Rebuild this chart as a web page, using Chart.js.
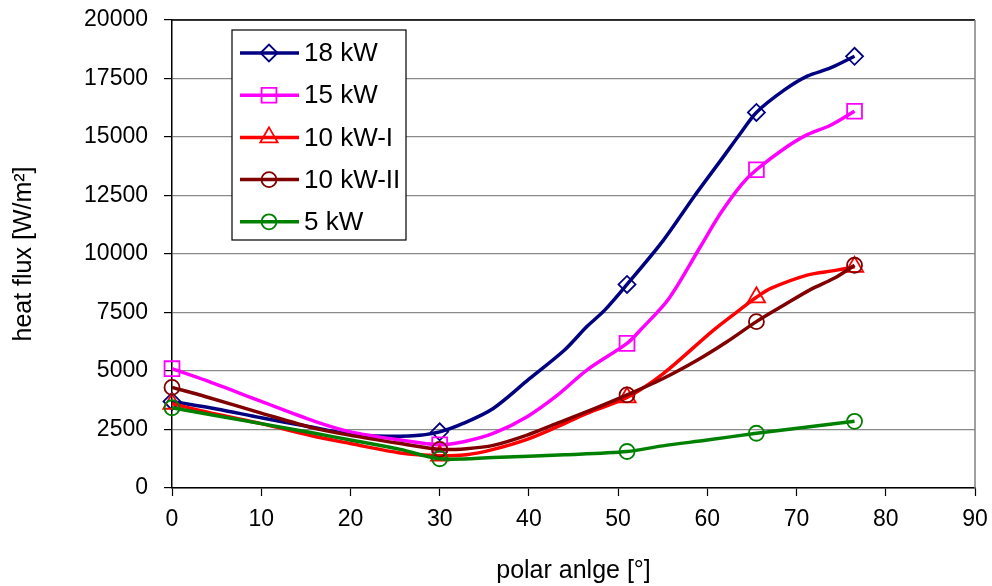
<!DOCTYPE html>
<html>
<head>
<meta charset="utf-8">
<script src="https://cdn.jsdelivr.net/npm/chart.js"></script>
<style>
  html, body { margin: 0; padding: 0; background: #fff; }
</style>
</head>
<body>
<canvas id="chart" width="992" height="586"></canvas>
<script>
// values
const markerAngles = [0, 30, 51, 65.5, 76.5];

const angles18 = [0, 5, 10, 15, 20, 23, 27, 30, 32.7, 36, 40, 44, 46.5, 48.5, 51, 55, 58.5, 61.5, 63.7, 65.5, 68.6, 71.2, 73.8, 76.5];
const flux18 = [3700, 3380, 3000, 2650, 2300, 2220, 2230, 2400, 2770, 3400, 4650, 5900, 6900, 7600, 8700, 10550, 12450, 14000, 15150, 16050, 17000, 17600, 17950, 18450];

const angles15 = [0, 3.8, 10, 16, 20, 25.6, 30, 32.7, 36, 39.8, 43.2, 46.5, 51, 52.5, 55.7, 59.2, 61.5, 63.9, 65.5, 68.6, 71.2, 73.8, 76.5];
const flux15 = [5100, 4600, 3700, 2850, 2400, 2050, 1850, 1980, 2330, 3050, 3970, 5040, 6180, 6750, 8100, 10300, 11750, 13000, 13600, 14500, 15100, 15500, 16100];

const angles10a = [0, 5, 10, 16, 20, 25.6, 30, 33, 36, 39.8, 43.2, 46.5, 51, 55.1, 60.7, 64.1, 65.5, 67.1, 71.2, 74.2, 76.5];
const flux10a = [3600, 3150, 2750, 2200, 1900, 1500, 1380, 1420, 1650, 2080, 2620, 3190, 3870, 4900, 6750, 7750, 8150, 8530, 9100, 9290, 9450];

const angles10b = [0, 3.8, 10, 16, 20, 25.6, 30, 33, 36, 39.8, 43.2, 46.5, 51, 55.1, 58.9, 62.2, 65.5, 68.6, 71.6, 74.2, 76.5];
const flux10b = [4300, 3900, 3200, 2550, 2250, 1900, 1650, 1680, 1820, 2260, 2770, 3260, 3980, 4690, 5470, 6250, 7110, 7820, 8490, 8960, 9520];

const angles5 = [0, 10, 16, 20, 25.6, 30, 36, 44, 51, 55, 60, 65.5, 71, 76.5];
const flux5 = [3430, 2750, 2340, 2050, 1650, 1250, 1300, 1420, 1560, 1800, 2050, 2340, 2600, 2850];

const seriesNames = ['18 kW', '15 kW', '10 kW-I', '10 kW-II', '5 kW'];
const seriesColors = ['#000080', '#ff00ff', '#ff0000', '#800000', '#008000'];
const seriesMarkers = ['rectRot', 'rect', 'triangle', 'circle', 'circle'];
const markerSizes = [8.5, 10.5, 10, 7.5, 7.5];

const allAngles = [angles18, angles15, angles10a, angles10b, angles5];
const allFlux = [flux18, flux15, flux10a, flux10b, flux5];

const FONT = "'Liberation Sans', Arial, sans-serif";

const datasets = seriesNames.map((name, i) => ({
  label: name,
  data: allAngles[i].map((a, j) => ({ x: a, y: allFlux[i][j] })),
  borderColor: seriesColors[i],
  borderWidth: 3.5,
  tension: 0.3,
  clip: false,
  pointStyle: seriesMarkers[i],
  pointBorderColor: seriesColors[i],
  pointBackgroundColor: 'rgba(0,0,0,0)',
  pointBorderWidth: 1.8,
  pointRadius: ctx => markerAngles.includes(ctx.raw.x) ? markerSizes[i] : 0,
  pointHoverRadius: 0,
  fill: false,
  order: 5 - i
}));

// plot frame (top / right) and the boxed legend
const frameLegend = {
  id: 'frameLegend',
  afterDraw(chart) {
    const { ctx, chartArea: a } = chart;
    ctx.save();
    ctx.lineWidth = 1.5;
    ctx.strokeStyle = '#000';
    ctx.beginPath();
    ctx.moveTo(a.left, a.top);
    ctx.lineTo(a.right, a.top);
    ctx.stroke();
    ctx.strokeStyle = '#808080';
    ctx.beginPath();
    ctx.moveTo(a.right, a.top);
    ctx.lineTo(a.right, a.bottom);
    ctx.stroke();

    const bx = a.left + 60, by = a.top + 10, bw = 174, bh = 210;
    ctx.fillStyle = '#fff';
    ctx.fillRect(bx, by, bw, bh);
    ctx.lineWidth = 1.2;
    ctx.strokeStyle = '#000';
    ctx.strokeRect(bx, by, bw, bh);

    ctx.font = '26px ' + FONT;
    ctx.textBaseline = 'middle';
    ctx.textAlign = 'left';
    seriesNames.forEach((name, i) => {
      const y = by + 23 + i * 42.2;
      ctx.strokeStyle = seriesColors[i];
      ctx.lineWidth = 3.5;
      ctx.beginPath();
      ctx.moveTo(bx + 8, y);
      ctx.lineTo(bx + 67, y);
      ctx.stroke();
      ctx.lineWidth = 1.8;
      ctx.fillStyle = 'rgba(0,0,0,0)';
      Chart.helpers.drawPoint(ctx, {
        pointStyle: seriesMarkers[i], radius: markerSizes[i], rotation: 0, borderWidth: 1.8
      }, bx + 37, y);
      ctx.fillStyle = '#000';
      ctx.fillText(name, bx + 72, y + 1);
    });
    ctx.restore();
  }
};

new Chart(document.getElementById('chart'), {
  type: 'line',
  data: { datasets },
  plugins: [frameLegend],
  options: {
    responsive: false,
    animation: false,
    layout: { padding: { top: 20, right: 17, left: 0, bottom: 0 } },
    plugins: { legend: { display: false }, tooltip: { enabled: false } },
    scales: {
      x: {
        type: 'linear',
        min: 0, max: 90,
        ticks: { stepSize: 10, color: '#000', padding: 10, font: { family: FONT, size: 23 } },
        grid: { drawOnChartArea: false, tickLength: 8, tickColor: '#000', tickWidth: 1.2 },
        border: { color: '#000', width: 1.5 },
        title: { display: true, text: 'polar anlge [°]', color: '#000', padding: { top: 0, bottom: 0 }, font: { family: FONT, size: 25 } },
        afterFit: s => { s.height = 98; s.paddingLeft = 0; s.paddingRight = 0; }
      },
      y: {
        min: 0, max: 20000,
        ticks: { stepSize: 2500, color: '#000', padding: 16, font: { family: FONT, size: 23 }, callback: v => String(v) },
        grid: { color: '#8a8a8a', lineWidth: 1.2, tickLength: 8, tickColor: '#000', tickWidth: 1.2 },
        border: { color: '#000', width: 1.5 },
        title: { display: true, text: 'heat flux [W/m²]', color: '#000', padding: { top: 9, bottom: 0 }, font: { family: FONT, size: 25 } },
        afterFit: s => { s.width = 172; s.paddingTop = 0; s.paddingBottom = 0; }
      }
    }
  }
});
</script>
</body>
</html>
